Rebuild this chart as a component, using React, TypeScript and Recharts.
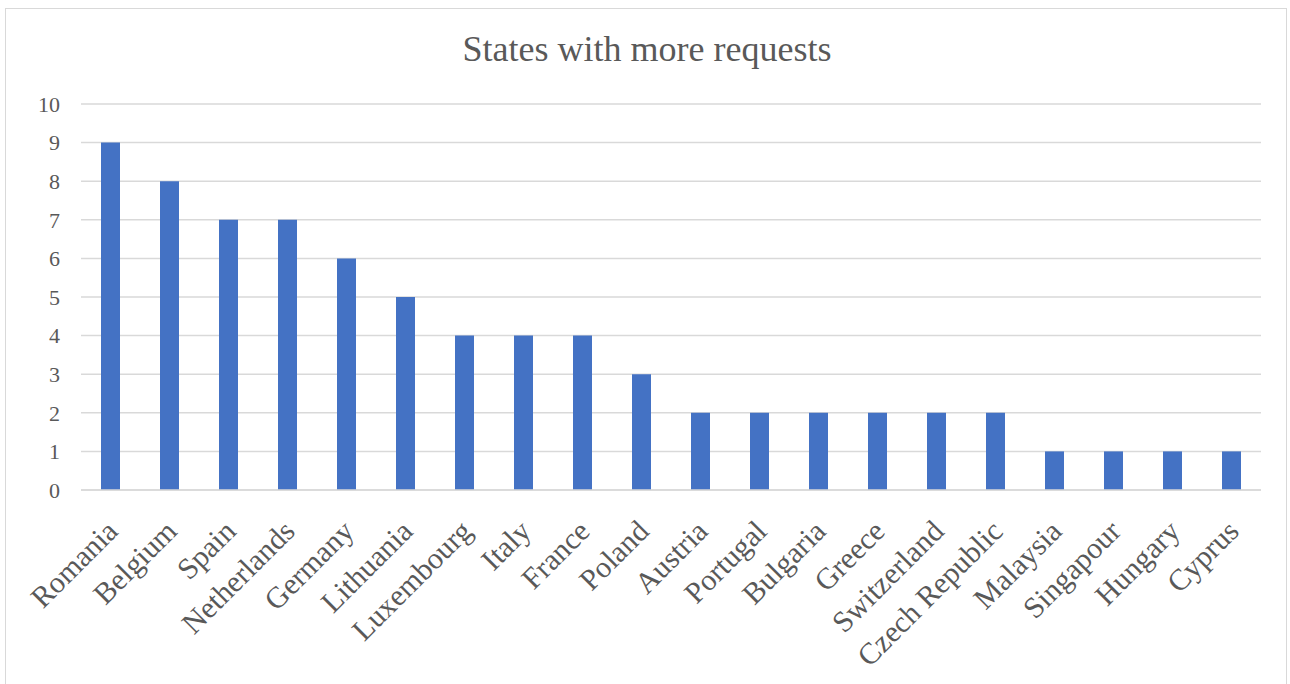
import React from "react";
import { BarChart, Bar, XAxis, YAxis, CartesianGrid } from "recharts";

const countries = [
  "Romania", "Belgium", "Spain", "Netherlands", "Germany", "Lithuania",
  "Luxembourg", "Italy", "France", "Poland", "Austria", "Portugal",
  "Bulgaria", "Greece", "Switzerland", "Czech Republic", "Malaysia",
  "Singapour", "Hungary", "Cyprus",
];
const requests = [9, 8, 7, 7, 6, 5, 4, 4, 4, 3, 2, 2, 2, 2, 2, 2, 1, 1, 1, 1];
const yTicks = [0, 1, 2, 3, 4, 5, 6, 7, 8, 9, 10];

const data = countries.map((name, i) => ({ name, value: requests[i] }));

const FONT = "'Liberation Serif', 'DejaVu Serif', serif";
const TEXT = "#595959";

const CountryTick = (props: any) => {
  const { x, y, payload } = props;
  const ax = x + 9;
  const ay = y + 35;
  return (
    <text
      x={ax}
      y={ay}
      transform={`rotate(-45, ${ax}, ${ay})`}
      textAnchor="end"
      fill={TEXT}
      fontFamily={FONT}
      fontSize={30}
    >
      {payload.value}
    </text>
  );
};

export default function App() {
  return (
    <div style={{ position: "absolute", left: 0, top: 0, width: 1290, height: 684, background: "#fff" }}>
      <div
        style={{
          position: "absolute",
          left: 5,
          top: 8,
          width: 1282,
          height: 680,
          border: "1px solid #d9d9d9",
          boxSizing: "border-box",
        }}
      />
      <div
        style={{
          position: "absolute",
          left: 0,
          top: 27,
          width: 1294,
          textAlign: "center",
          fontFamily: FONT,
          fontSize: 36,
          lineHeight: "44px",
          color: TEXT,
        }}
      >
        States with more requests
      </div>
      <div style={{ position: "absolute", left: 0, top: 0 }}>
        <BarChart
          width={1290}
          height={684}
          data={data}
          margin={{ top: 104, right: 29, left: 0, bottom: 0 }}
        >
          <CartesianGrid vertical={false} stroke="#d9d9d9" strokeWidth={1.5} />
          <XAxis
            dataKey="name"
            interval={0}
            axisLine={{ stroke: "#d9d9d9", strokeWidth: 1.5 }}
            tickLine={false}
            tick={<CountryTick />}
            height={194}
          />
          <YAxis
            domain={[0, 10]}
            ticks={yTicks}
            interval={0}
            axisLine={false}
            tickLine={false}
            tickSize={0}
            tickMargin={21}
            width={81}
            tick={{ fill: TEXT, fontFamily: FONT, fontSize: 22 }}
          />
          <Bar dataKey="value" fill="#4472c4" barSize={19} isAnimationActive={false} />
        </BarChart>
      </div>
    </div>
  );
}
